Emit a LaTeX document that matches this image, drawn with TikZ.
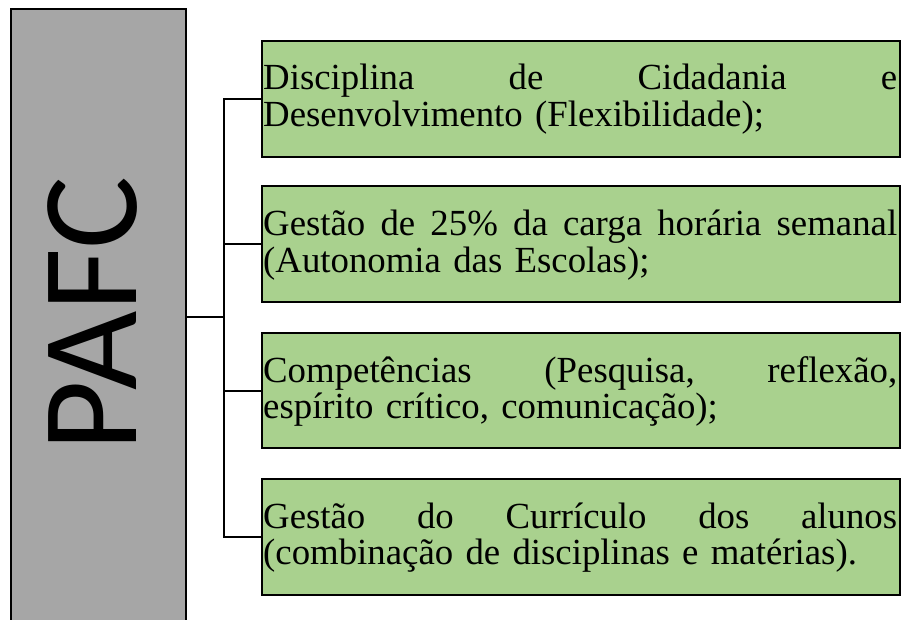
\documentclass[tikz,border=0pt]{standalone}
\usepackage{fontspec}
\setmainfont{Liberation Serif}
\newfontfamily\pafcfont{Carlito}
\definecolor{pafcgray}{HTML}{A6A6A6}
\definecolor{boxgreen}{HTML}{A9D18E}
\newcommand{\fullline}[1]{\makebox[634pt][s]{#1}}
\newcommand{\gap}{\hspace{0pt plus 1fil}\ }
\begin{document}
\begin{tikzpicture}[x=1pt,y=-1pt,
  greenbox/.style={draw=black,fill=boxgreen,line width=2pt},
  boxtext/.style={anchor=base west,inner sep=0pt,text width=634pt,align=left,
    font=\fontsize{36.8}{36.8}\selectfont},
  link/.style={line width=2pt}]
\useasboundingbox (0,0) rectangle (904,620);
\clip (0,0) rectangle (904,620);
% gray block
\fill[pafcgray] (11,9) rectangle (186,630);
\draw[line width=2pt] (11,630) -- (11,9) -- (186,9) -- (186,630);
\node[rotate=90,inner sep=0pt,font=\pafcfont\fontsize{137}{137}\selectfont] (pafc) at (93,314) {PAFC};
\coordinate (pafcR) at (186,317);
% boxes
\node[greenbox,minimum width=638pt,minimum height=116pt,anchor=north west,inner sep=0pt] (b1) at (261,40) {};
\node[greenbox,minimum width=638pt,minimum height=116pt,anchor=north west,inner sep=0pt] (b2) at (261,185) {};
\node[greenbox,minimum width=638pt,minimum height=115pt,anchor=north west,inner sep=0pt] (b3) at (261,332) {};
\node[greenbox,minimum width=638pt,minimum height=116pt,anchor=north west,inner sep=0pt] (b4) at (261,478) {};
% texts
\node[boxtext] (t1) at (263,90) {\fullline{Disciplina\gap de\gap Cidadania\gap e}\\Desenvolvimento (Flexibilidade);};
\node[boxtext] (t2) at (263,236) {\fullline{Gestão\gap de\gap 25\%\gap da\gap carga\gap horária\gap semanal}\\(Autonomia das Escolas);};
\node[boxtext] (t3) at (263,382) {\fullline{Competências\gap (Pesquisa,\gap reflexão,}\\espírito crítico, comunicação);};
\node[boxtext] (t4) at (263,528) {\fullline{Gestão\gap do\gap Currículo\gap dos\gap alunos}\\(combinação de disciplinas e matérias).};
% connectors
\coordinate (bus) at (224,317);
\draw[link] (pafcR) -- (bus);
\draw[link] (b1.west) -| (bus);
\draw[link] (b4.west) -| (bus);
\draw[link] (b2.west) -- (b2.west -| bus);
\draw[link] (b3.west) -- (b3.west -| bus);
\end{tikzpicture}
\end{document}
